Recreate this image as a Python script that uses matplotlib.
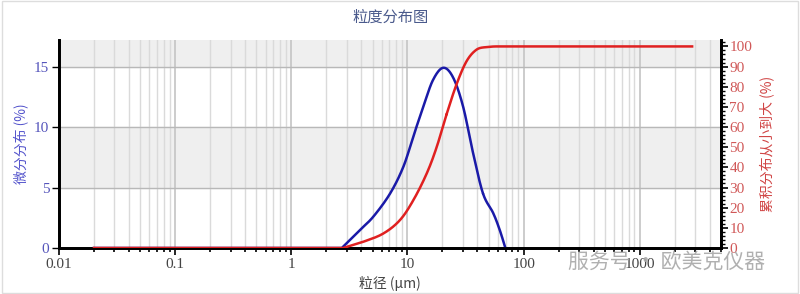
import numpy as np
import matplotlib
matplotlib.use("Agg")
import matplotlib.pyplot as plt
from matplotlib.ticker import LogLocator, FixedLocator, MultipleLocator, NullFormatter

plt.rcParams['font.family'] = ['Noto Sans CJK SC', 'DejaVu Sans']

# differential distribution (blue, left axis)
size_diff = [0.02, 2.72, 3.91, 5.09, 7.08, 9.2, 11.2, 13.7, 16.6, 20.3, 24.7,
             30.1, 36.7, 44.7, 54.6, 62.2, 69.6]
diff_pct = [0, 0, 1.5, 2.6, 4.5, 6.7, 9.2, 11.7, 13.9, 14.9, 14.1,
            11.7, 7.85, 4.5, 2.9, 1.5, 0]

# cumulative distribution (red, right axis)
size_cum = [0.02, 2.8, 4.17, 6.2, 8.6, 11.2, 14.6, 17.8, 21.7, 26.4, 32.2,
            39.3, 48.0, 58.0, 2820]
cum_pct = [0, 0, 3.1, 7.2, 13.8, 23.6, 36.8, 49.9, 66.3, 81.1, 92.6,
           98.4, 99.7, 100, 100]

x_ticks = [0.01, 0.1, 1, 10, 100, 1000]
x_labels = ['0.01', '0.1', '1', '10', '100', '1000']
left_ticks = [0, 5, 10, 15]
right_ticks = list(range(0, 101, 10))


def smooth(xs, ys, steps=30):
    # Catmull-Rom through the read points, in log-x space
    pts = np.column_stack([np.log10(xs), ys])
    out = [pts[0]]
    for i in range(1, len(pts) - 1):
        p0 = pts[i - 1] if i > 1 else pts[i]
        p1, p2 = pts[i], pts[i + 1]
        p3 = pts[i + 2] if i + 2 < len(pts) else pts[i + 1]
        for s in np.linspace(0, 1, steps):
            s2, s3 = s * s, s * s * s
            out.append(0.5 * ((2 * p1) + (-p0 + p2) * s +
                              (2 * p0 - 5 * p1 + 4 * p2 - p3) * s2 +
                              (-p0 + 3 * p1 - 3 * p2 + p3) * s3))
    out = np.array(out)
    return 10 ** out[:, 0], out[:, 1]


fig = plt.figure(figsize=(8, 2.94), dpi=100)
ax = fig.add_axes([0.07375, 0.1565, 0.8275, 0.7075])
ax.set_xscale('log')
ax.set_xlim(0.01, 5000)
ax.set_ylim(0, 17.2)

# grey bands
ax.axhspan(5, 10, color='#efefef', zorder=0)
ax.axhspan(15, 17.2, color='#efefef', zorder=0)

ax.xaxis.set_major_locator(FixedLocator(x_ticks))
ax.set_xticklabels(x_labels)
ax.xaxis.set_minor_locator(LogLocator(base=10, subs=np.arange(2, 10)))
ax.xaxis.set_minor_formatter(NullFormatter())
ax.grid(True, which='minor', axis='x', color='#dadada', lw=1, zorder=1)
ax.grid(True, which='major', axis='x', color='#c4c4c4', lw=1.2, zorder=1)
ax.set_yticks(left_ticks)
ax.grid(True, which='major', axis='y', color='#b8b8b8', lw=1, zorder=1)

xb, yb = smooth(size_diff, diff_pct)
ax.plot(xb, np.clip(yb, 0, None), color='#1a1aa8', lw=1.8, zorder=4)

ax2 = ax.twinx()
ax2.set_ylim(0, 103.2)
xr, yr = smooth(size_cum[:-1], cum_pct[:-1])
xr = np.append(xr, size_cum[-1])
yr = np.append(np.clip(yr, 0, 100), cum_pct[-1])
ax2.plot(xr, yr, color='#e02020', lw=1.8, zorder=4)
ax2.set_yticks(right_ticks)
ax2.yaxis.set_minor_locator(MultipleLocator(2))

serif = 'Liberation Serif'
for lab in ax.get_xticklabels() + ax.get_yticklabels() + ax2.get_yticklabels():
    lab.set_fontfamily(serif)

ax.tick_params(axis='x', which='major', length=5, width=1.2, colors='#000000',
               labelcolor='#444444', labelsize=11, pad=2)
ax.tick_params(axis='x', which='minor', length=3, width=1.2, colors='#000000')
ax.tick_params(axis='y', length=5, width=1, colors='#000000',
               labelcolor='#5555bb', labelsize=11, pad=2)
ax2.tick_params(axis='y', which='major', length=5, width=1.2, colors='#000000',
                labelcolor='#d05858', labelsize=11, pad=1)
ax2.tick_params(axis='y', which='minor', length=3, width=1, colors='#000000')

for a in (ax, ax2):
    a.spines['top'].set_visible(False)
    a.spines['left'].set_linewidth(2)
    a.spines['right'].set_linewidth(2)
    a.spines['bottom'].set_linewidth(2)

ax.set_ylabel('微分分布 (%)', color='#5555cc', fontsize=10, labelpad=4)
ax2.set_ylabel('累积分布从小到大 (%)', color='#d04444', fontsize=10, labelpad=5)
ax.set_xlabel('粒径 (μm)', color='#444444', fontsize=10, labelpad=4)
fig.text(0.488, 0.94, '粒度分布图', ha='center', va='center',
         color='#4a5a8c', fontsize=11)

# watermark
fig.text(0.71, 0.108, '服务号 · 欧美克仪器', ha='left', va='center',
         color='#a8a8a8', fontsize=15, alpha=0.9)

# outer frame
fig.add_artist(plt.Rectangle((0.003, 0.005), 0.994, 0.99, transform=fig.transFigure,
                             fill=False, ec='#dddddd', lw=1))

fig.savefig('out.png', dpi=100)
